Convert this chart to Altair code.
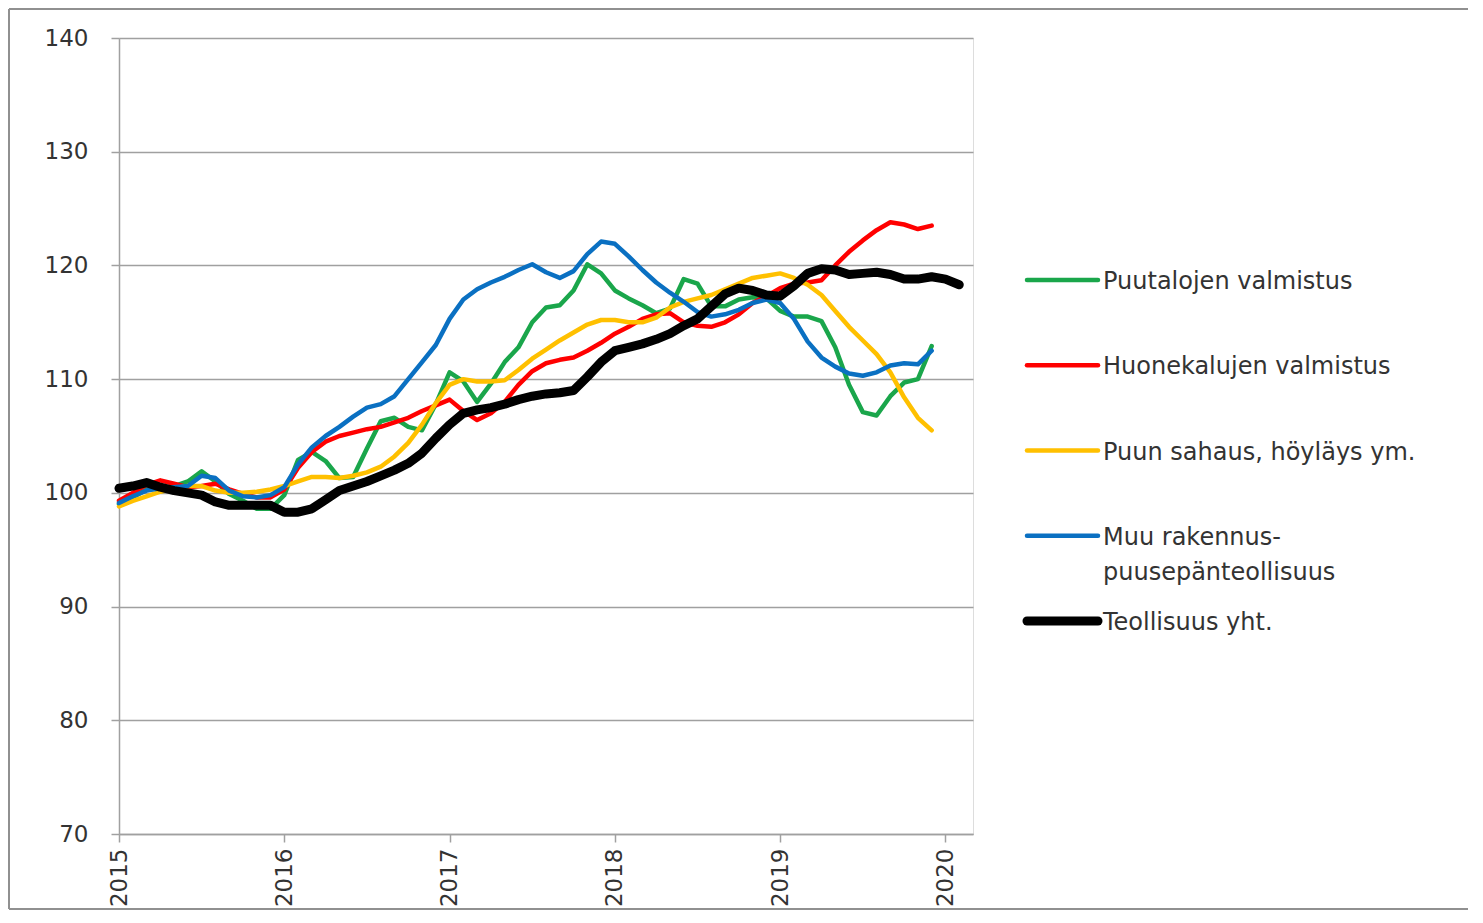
import altair as alt
import pandas as pd

series_names = [
    "Puutalojen valmistus",
    "Huonekalujen valmistus",
    "Puun sahaus, höyläys ym.",
    "Muu rakennus-puusepänteollisuus",
    "Teollisuus yht.",
]
legend_lines = [
    ["Puutalojen valmistus"],
    ["Huonekalujen valmistus"],
    ["Puun sahaus, höyläys ym."],
    ["Muu rakennus-", "puusepänteollisuus"],
    ["Teollisuus yht."],
]
series_colors = ["#1aa64b", "#ff0000", "#ffc000", "#0a70c2", "#000000"]

start_year = 2015

puutalot = [99.0, 99.6, 100.3, 100.4, 100.6, 101.0, 101.9, 101.0, 99.9, 99.3, 98.6, 98.6,
            99.8, 102.9, 103.6, 102.8, 101.3, 101.4, 103.9, 106.3, 106.6, 105.8, 105.5, 107.8,
            110.6, 109.8, 108.0, 109.6, 111.5, 112.8, 115.0, 116.3, 116.5, 117.8, 120.1, 119.3,
            117.8, 117.1, 116.5, 115.8, 116.2, 118.8, 118.4, 116.4, 116.4, 117.0, 117.2, 117.1,
            116.0, 115.5, 115.5, 115.1, 112.8, 109.5, 107.1, 106.8, 108.5, 109.7, 110.0, 112.9]

huonekalut = [99.3, 100.0, 100.7, 101.1, 100.8, 100.5, 100.6, 100.8, 100.3, 99.9, 99.6, 99.6,
              100.3, 102.2, 103.6, 104.5, 105.0, 105.3, 105.6, 105.8, 106.2, 106.6, 107.2, 107.7,
              108.2, 107.2, 106.4, 107.0, 108.0, 109.5, 110.7, 111.4, 111.7, 111.9, 112.5, 113.2,
              114.0, 114.6, 115.3, 115.7, 115.8, 115.0, 114.7, 114.6, 115.0, 115.7, 116.7, 117.3,
              118.0, 118.4, 118.5, 118.7, 120.0, 121.2, 122.2, 123.1, 123.8, 123.6, 123.2, 123.5]

sahaus = [98.8, 99.3, 99.7, 100.1, 100.4, 100.6, 100.6, 100.2, 100.0, 100.0, 100.1, 100.3,
          100.6, 101.0, 101.4, 101.4, 101.3, 101.5, 101.8, 102.3, 103.2, 104.4, 106.0, 107.9,
          109.5, 110.0, 109.8, 109.8, 109.9, 110.8, 111.8, 112.6, 113.4, 114.1, 114.8, 115.2,
          115.2, 115.0, 115.0, 115.4, 116.3, 116.8, 117.1, 117.4, 117.9, 118.4, 118.9, 119.1,
          119.3, 118.9, 118.3, 117.4, 116.0, 114.6, 113.4, 112.2, 110.6, 108.4, 106.6, 105.5]

muu_rakennus = [99.1, 99.7, 100.2, 100.4, 100.5, 100.6, 101.5, 101.3, 100.2, 99.7, 99.6, 99.8,
                100.5, 102.5, 104.0, 105.0, 105.8, 106.7, 107.5, 107.8, 108.5, 110.0, 111.5, 113.0,
                115.3, 117.0, 117.9, 118.5, 119.0, 119.6, 120.1, 119.4, 118.9, 119.5, 121.0, 122.1,
                121.9, 120.8, 119.6, 118.5, 117.6, 116.8, 115.9, 115.5, 115.7, 116.1, 116.7, 117.0,
                116.7, 115.3, 113.3, 111.9, 111.1, 110.5, 110.3, 110.6, 111.2, 111.4, 111.3, 112.5]

teollisuus = [100.4, 100.6, 100.9, 100.5, 100.2, 100.0, 99.8, 99.2, 98.9, 98.9, 98.9, 98.9,
              98.3, 98.3, 98.6, 99.4, 100.2, 100.6, 101.0, 101.5, 102.0, 102.6, 103.5, 104.8,
              106.0, 107.0, 107.3, 107.5, 107.8, 108.2, 108.5, 108.7, 108.8, 109.0, 110.2, 111.5,
              112.5, 112.8, 113.1, 113.5, 114.0, 114.7, 115.3, 116.4, 117.5, 118.0, 117.8, 117.4,
              117.3, 118.2, 119.3, 119.7, 119.6, 119.2, 119.3, 119.4, 119.2, 118.8, 118.8, 119.0,
              118.8, 118.3]

year_ticks = [2015, 2016, 2017, 2018, 2019, 2020]
y_ticks = [70, 80, 90, 100, 110, 120, 130, 140]

all_series = [puutalot, huonekalut, sahaus, muu_rakennus, teollisuus]
rows = []
for name, vals in zip(series_names, all_series):
    for i, v in enumerate(vals):
        rows.append({"series": name, "t": start_year + i / 12.0, "value": v})
df = pd.DataFrame(rows)

leg_df = pd.DataFrame({"series": series_names, "lines": legend_lines})

FONT = "DejaVu Sans"
TXT = "#333333"
GRID = "#a0a0a0"
TOTAL = series_names[-1]

color_scale = alt.Scale(domain=series_names, range=series_colors)
width_rule = alt.condition("datum.series == '" + TOTAL + "'", alt.value(9), alt.value(4.5))

lines = alt.Chart(df).mark_line(strokeCap="round", strokeJoin="round", clip=False).encode(
    x=alt.X("t:Q",
            scale=alt.Scale(domain=[2015, 2015 + 62 / 12.0], nice=False, zero=False),
            axis=alt.Axis(values=year_ticks, format="d", labelAngle=-90, title=None,
                          grid=False, tickSize=8, tickColor=GRID, domainColor=GRID,
                          domainWidth=1.5, tickWidth=1.5,
                          labelFont=FONT, labelFontSize=23, labelColor=TXT, labelPadding=6)),
    y=alt.Y("value:Q",
            scale=alt.Scale(domain=[70, 140], nice=False, zero=False),
            axis=alt.Axis(values=y_ticks, title=None, grid=True, gridColor=GRID, gridWidth=1.5,
                          tickSize=8, tickColor=GRID, domainColor=GRID, domainWidth=1.5,
                          tickWidth=1.5, labelFont=FONT, labelFontSize=23, labelColor=TXT,
                          labelPadding=23)),
    color=alt.Color("series:N", scale=color_scale, legend=None),
    strokeWidth=width_rule,
    detail="series:N",
)

# legend rows placed by a point scale over the series order
leg_y = alt.Y("series:N", scale=alt.Scale(type="point", domain=series_names,
                                          range=[242, 583], padding=0), axis=None)

leg_sym = alt.Chart(leg_df).mark_rule(strokeCap="round", clip=False).encode(
    x=alt.value(908), x2=alt.value(979),
    y=leg_y,
    color=alt.Color("series:N", scale=color_scale, legend=None),
    strokeWidth=width_rule,
)

leg_txt = alt.Chart(leg_df).mark_text(
    align="left", baseline="alphabetic", dy=9, font=FONT, fontSize=24,
    color=TXT, lineHeight=35, clip=False
).encode(
    x=alt.value(984),
    y=leg_y,
    text="lines",
)

frame_color = "#909090"
frame_top = alt.Chart(df).mark_rule(stroke=frame_color, strokeWidth=2, clip=False).encode(
    x=alt.value(-110), x2=alt.value(1356), y=alt.value(-29))
frame_left = alt.Chart(df).mark_rule(stroke=frame_color, strokeWidth=2, clip=False).encode(
    x=alt.value(-110), y=alt.value(-29), y2=alt.value(871))
frame_bottom = alt.Chart(df).mark_rule(stroke=frame_color, strokeWidth=2, clip=False).encode(
    x=alt.value(-110), x2=alt.value(1356), y=alt.value(871))

chart = alt.layer(frame_top, frame_left, frame_bottom, lines, leg_sym, leg_txt).resolve_scale(
    y="independent"
).properties(
    width=854, height=796,
    autosize=alt.AutoSizeParams(type="none"),
    padding={"left": 111, "top": 30, "right": 495, "bottom": 77},
).configure_view(stroke=None).configure(background="white")

chart.save("out.html", embed_options={"renderer": "svg", "actions": False})
